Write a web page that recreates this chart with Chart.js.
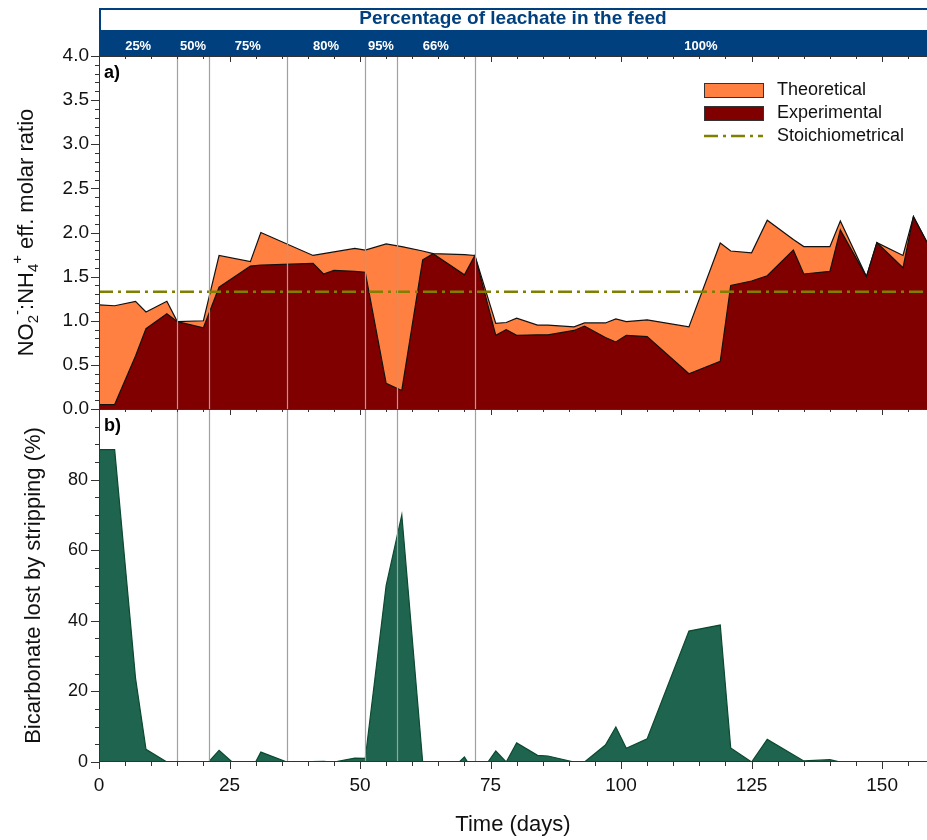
<!DOCTYPE html>
<html>
<head>
<meta charset="utf-8">
<script src="https://cdn.jsdelivr.net/npm/chart.js@4.4.1/dist/chart.umd.min.js"></script>
<style>
  html, body { margin: 0; padding: 0; background: #fff; }
</style>
</head>
<body>
<canvas id="chart" width="927" height="840"></canvas>
<script>
// panel a) sampling days and ratios
const daysRatio = [0, 3, 7, 9, 13, 15, 20, 23, 29, 31, 41, 43, 45, 49, 51, 55, 58, 62, 64, 70,
  72, 76, 78, 80, 84, 86, 91, 93, 97, 99, 101, 105, 113, 119, 121, 125, 128, 133, 135, 140,
  142, 147, 149, 154, 156, 158.6];
const theoretical = [1.18, 1.17, 1.22, 1.10, 1.22, 0.99, 1.00, 1.74, 1.67, 2.00, 1.74, 1.76, 1.78, 1.82, 1.80, 1.87, 1.84, 1.79, 1.76, 1.75,
  1.74, 0.97, 0.98, 1.03, 0.95, 0.95, 0.93, 0.975, 0.975, 1.02, 0.99, 1.01, 0.93, 1.88, 1.79, 1.77, 2.14, 1.92, 1.84, 1.84,
  2.13, 1.50, 1.885, 1.74, 2.18, 1.89];
const experimental = [0.05, 0.05, 0.60, 0.91, 1.08, 0.99, 0.92, 1.38, 1.62, 1.63, 1.65, 1.53, 1.57, 1.56, 1.55, 0.29, 0.21, 1.69, 1.76, 1.52,
  1.74, 0.835, 0.90, 0.835, 0.84, 0.84, 0.89, 0.94, 0.81, 0.76, 0.835, 0.82, 0.40, 0.54, 1.40, 1.45, 1.51, 1.80, 1.53, 1.56,
  2.03, 1.50, 1.885, 1.60, 2.18, 1.89];
const stoichiometric = 1.33;

// panel b) bicarbonate lost by stripping (%)
const daysBicarb = [0, 3, 7, 9, 13, 21, 23, 25.5, 30, 31, 36, 43, 45, 49, 51, 55, 58, 62, 69, 70,
  70.6, 74.5, 76, 78, 80, 84, 86, 91, 93, 97, 99, 101, 105, 113, 119, 121, 125, 128, 135, 140,
  142, 158.6];
const bicarbonateLost = [88.5, 88.5, 23.7, 3.6, 0, 0, 3.3, 0, 0, 2.8, 0, 0.2, 0, 1.1, 1.0, 50, 70, 0, 0, 1.4,
  0, 0, 3.1, 0, 5.4, 1.9, 1.7, 0, 0, 4.8, 9.9, 3.9, 6.6, 37.1, 38.8, 4.0, 0, 6.4, 0.3, 0.65,
  0, 0];

// feed composition periods
const feedChanges = [15, 21, 36, 51, 57, 72];
const feedLabels = ['25%', '50%', '75%', '80%', '95%', '66%', '100%'];
const xMax = 158.6;

const FONT = '"Liberation Sans", Arial, sans-serif';
const NARROW = '"Liberation Sans Narrow", "Liberation Sans", Arial, sans-serif';
const BLUE = '#00407f';

const toPoints = (xs, ys) => xs.map((d, i) => ({ x: d, y: ys[i] }));

// draws text with sub/superscripts, rotated for a y axis title
function richTitle(ctx, parts, cx, cy, size) {
  ctx.save();
  ctx.translate(cx, cy);
  ctx.rotate(-Math.PI / 2);
  ctx.textBaseline = 'middle';
  ctx.textAlign = 'left';
  ctx.fillStyle = '#111';
  let total = 0;
  parts.forEach(p => {
    ctx.font = (p[1] ? size * 0.68 : size) + 'px ' + FONT;
    total += ctx.measureText(p[0]).width;
  });
  let x = -total / 2;
  parts.forEach(p => {
    ctx.font = (p[1] ? size * 0.68 : size) + 'px ' + FONT;
    const dy = p[1] === 'sub' ? size * 0.32 : p[1] === 'sup' ? -size * 0.42 : 0;
    ctx.fillText(p[0], x, dy);
    x += ctx.measureText(p[0]).width;
  });
  ctx.restore();
}

const decorPlugin = {
  id: 'decor',
  afterDatasetsDraw(chart) {
    const { ctx, chartArea: a, scales: { x, y, y2 } } = chart;
    ctx.save();

    // feed change lines
    ctx.strokeStyle = '#a0a0a0';
    ctx.lineWidth = 1.2;
    feedChanges.forEach(d => {
      const px = Math.round(x.getPixelForValue(d)) + 0.5;
      ctx.beginPath();
      ctx.moveTo(px, a.top);
      ctx.lineTo(px, a.bottom);
      ctx.stroke();
    });

    // frames
    ctx.strokeStyle = '#333';
    ctx.lineWidth = 1;
    ctx.strokeRect(a.left + 0.5, y.top + 0.5, a.right - a.left, y.bottom - y.top);
    ctx.strokeRect(a.left + 0.5, y2.top + 0.5, a.right - a.left, y2.bottom - y2.top - 1);

    // tick marks
    ctx.beginPath();
    for (let i = 0; i <= 40; i++) {
      const py = Math.round(y.getPixelForValue(i / 10)) + 0.5;
      const len = i % 5 === 0 ? 8 : 4;
      ctx.moveTo(a.left - len, py);
      ctx.lineTo(a.left, py);
    }
    for (let v = 0; v <= 100; v += 5) {
      const py = Math.round(y2.getPixelForValue(v)) + 0.5;
      const len = v % 20 === 0 ? 8 : 4;
      ctx.moveTo(a.left - len, py);
      ctx.lineTo(a.left, py);
    }
    for (let v = 0; v <= xMax; v += 5) {
      const px = Math.round(x.getPixelForValue(v)) + 0.5;
      const len = v % 25 === 0 ? 7 : 4;
      ctx.moveTo(px, a.bottom);
      ctx.lineTo(px, a.bottom + len);
      ctx.moveTo(px, y.top);
      ctx.lineTo(px, y.top + len - 1);
      ctx.moveTo(px, y.bottom);
      ctx.lineTo(px, y.bottom + len - 1);
    }
    ctx.stroke();

    // panel letters
    ctx.fillStyle = '#000';
    ctx.font = 'bold 18px ' + FONT;
    ctx.textBaseline = 'middle';
    ctx.textAlign = 'left';
    ctx.fillText('a)', a.left + 5, y.top + 17);
    ctx.fillText('b)', a.left + 5, y2.top + 17);

    // legend
    const lx = 704, lw = 59;
    ctx.lineWidth = 1;
    ctx.fillStyle = '#ff8040';
    ctx.fillRect(lx, 83, lw, 14);
    ctx.strokeStyle = '#333';
    ctx.strokeRect(lx + 0.5, 83.5, lw, 14);
    ctx.fillStyle = '#800000';
    ctx.fillRect(lx, 106, lw, 14);
    ctx.strokeRect(lx + 0.5, 106.5, lw, 14);
    ctx.strokeStyle = '#808000';
    ctx.lineWidth = 2.5;
    ctx.setLineDash([14, 5, 3, 5]);
    ctx.beginPath();
    ctx.moveTo(lx, 136);
    ctx.lineTo(lx + lw, 136);
    ctx.stroke();
    ctx.setLineDash([]);
    ctx.fillStyle = '#111';
    ctx.font = '18px ' + FONT;
    ctx.fillText('Theoretical', 777, 90);
    ctx.fillText('Experimental', 777, 113);
    ctx.fillText('Stoichiometrical', 777, 136);

    // banner with feed composition
    ctx.fillStyle = '#fff';
    ctx.fillRect(a.left, 8, a.right - a.left, 22);
    ctx.strokeStyle = BLUE;
    ctx.lineWidth = 2;
    ctx.strokeRect(a.left + 1, 9, a.right - a.left + 2, 22);
    ctx.fillStyle = BLUE;
    ctx.fillRect(a.left, 30, a.right - a.left, y.top - 30);
    ctx.font = 'bold 19px ' + FONT;
    ctx.textAlign = 'center';
    ctx.fillText('Percentage of leachate in the feed', (a.left + a.right) / 2, 19);
    const bounds = [0, ...feedChanges, xMax];
    ctx.fillStyle = '#fff';
    ctx.font = 'bold 13px ' + FONT;
    feedLabels.forEach((lab, i) => {
      const cx = (x.getPixelForValue(bounds[i]) + x.getPixelForValue(bounds[i + 1])) / 2;
      ctx.fillText(lab, cx, 46);
    });

    // y titles
    richTitle(ctx, [['NO'], ['2', 'sub'], ['-', 'sup'], [':NH'], ['4', 'sub'], ['+', 'sup'], [' eff. molar ratio']],
      27, (y.top + y.bottom) / 2, 22);
    richTitle(ctx, [['Bicarbonate lost by stripping (%)']], 34, (y2.top + y2.bottom) / 2, 22);

    ctx.restore();
  }
};

new Chart(document.getElementById('chart'), {
  type: 'line',
  data: {
    datasets: [
      {
        label: 'Stoichiometrical',
        data: toPoints([0, xMax], [stoichiometric, stoichiometric]),
        yAxisID: 'y',
        borderColor: '#808000',
        borderWidth: 2.5,
        borderDash: [14, 5, 3, 5],
        fill: false,
        order: 0
      },
      {
        label: 'Experimental',
        data: toPoints(daysRatio, experimental),
        yAxisID: 'y',
        backgroundColor: '#800000',
        borderColor: '#111',
        borderWidth: 1.2,
        fill: 'origin',
        order: 1
      },
      {
        label: 'Theoretical',
        data: toPoints(daysRatio, theoretical),
        yAxisID: 'y',
        backgroundColor: '#ff8040',
        borderColor: '#111',
        borderWidth: 1.2,
        fill: 'origin',
        order: 2
      },
      {
        label: 'Bicarbonate lost',
        data: toPoints(daysBicarb, bicarbonateLost),
        yAxisID: 'y2',
        backgroundColor: '#1e644e',
        borderColor: '#0c4a30',
        borderWidth: 1.2,
        fill: 'origin',
        order: 3
      }
    ]
  },
  options: {
    responsive: false,
    animation: false,
    layout: { padding: { top: 56, right: 0, bottom: 0, left: 0 } },
    elements: { point: { radius: 0 }, line: { tension: 0 } },
    plugins: { legend: { display: false }, tooltip: { enabled: false } },
    scales: {
      x: {
        type: 'linear',
        min: 0,
        max: xMax,
        grid: { display: false, drawTicks: false },
        border: { display: false },
        ticks: {
          stepSize: 25, includeBounds: false, maxRotation: 0, autoSkip: false,
          padding: 12, color: '#111', font: { family: NARROW, size: 19 }
        },
        title: {
          display: true, text: 'Time (days)', color: '#111',
          font: { family: NARROW, size: 22 }, padding: { top: 0, bottom: 2 }
        },
        afterFit: s => { s.height = 78; }
      },
      // bottom panel first: left-side stacked boxes are placed in reverse order
      y2: {
        type: 'linear',
        position: 'left',
        stack: 'panels',
        stackWeight: 1,
        min: 0,
        max: 100,
        grid: { display: false, drawTicks: false },
        border: { display: false },
        ticks: {
          stepSize: 20, padding: 11, autoSkip: false, color: '#111', font: { family: FONT, size: 18 },
          callback: v => (v === 100 ? '' : v)
        },
        afterFit: s => { s.width = 99; }
      },
      y: {
        type: 'linear',
        position: 'left',
        stack: 'panels',
        stackWeight: 1,
        min: 0,
        max: 4,
        grid: { display: false, drawTicks: false },
        border: { display: false },
        ticks: {
          stepSize: 0.5, padding: 10, autoSkip: false, color: '#111', font: { family: FONT, size: 19 },
          callback: v => v.toFixed(1)
        },
        afterFit: s => { s.width = 99; }
      }
    }
  },
  plugins: [decorPlugin]
});
</script>
</body>
</html>
